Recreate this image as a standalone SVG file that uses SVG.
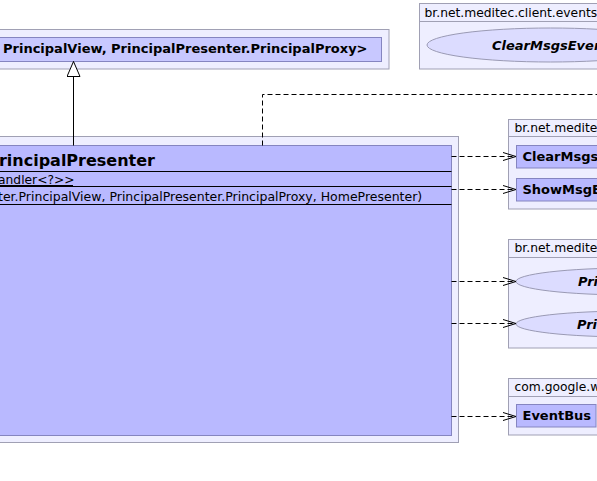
<svg xmlns="http://www.w3.org/2000/svg" width="597" height="481" viewBox="0 0 597 481">
<style>
.pkg{fill:#eeeeff;stroke:#a0a0b4;stroke-width:1}
.cls{fill:#b9b9ff;stroke:#8585c0;stroke-width:1}
.clsl{fill:#c8c8ff;stroke:#8585c0;stroke-width:1}
.ell{fill:#dcdcff;stroke:#9a9ab4;stroke-width:1}
.sep{stroke:#000;stroke-width:1}
.hdr{font-family:"DejaVu Sans",sans-serif;font-size:12.3px;fill:#000}
.nm{font-family:"DejaVu Sans",sans-serif;font-size:13px;font-weight:bold;fill:#000}
.nmi{font-family:"DejaVu Sans",sans-serif;font-size:13px;font-weight:bold;font-style:italic;fill:#000}
.ttl{font-family:"DejaVu Sans",sans-serif;font-size:16px;font-weight:bold;fill:#000}
.mem{font-family:"DejaVu Sans",sans-serif;font-size:12.5px;fill:#000}
.dep{fill:none;stroke:#000;stroke-width:1;stroke-dasharray:5,3}
.gen{fill:none;stroke:#000;stroke-width:1}
</style>
<defs>
<marker id="open" viewBox="0 0 14 10" refX="13" refY="5" markerWidth="14" markerHeight="10" markerUnits="userSpaceOnUse" orient="auto">
<path d="M0,1 L13,5 L0,9" fill="none" stroke="#000" stroke-width="1"/>
</marker>
<marker id="tri" viewBox="0 0 16 14" refX="15.5" refY="7" markerWidth="16" markerHeight="14" markerUnits="userSpaceOnUse" orient="auto">
<path d="M0.5,0.5 L15.5,7 L0.5,13.5 Z" fill="#fff" stroke="#000" stroke-width="1"/>
</marker>
</defs>

<g id="super">
<rect class="pkg" x="-10" y="29.5" width="399" height="39.5"/>
<rect class="clsl" x="-10" y="37.5" width="391.5" height="24"/>
<text class="nm" x="3" y="53">PrincipalView, PrincipalPresenter.PrincipalProxy&gt;</text>
</g>

<g id="pkg-events">
<rect class="pkg" x="419.5" y="3.5" width="190" height="65.5"/>
<line x1="419.5" y1="21.5" x2="609.5" y2="21.5" stroke="#a0a0b4"/>
<text class="hdr" x="424.5" y="16.5">br.net.meditec.client.events</text>
<ellipse class="ell" cx="550.5" cy="45" rx="123.5" ry="17"/>
<text class="nmi" x="492" y="49.5">ClearMsgsEven</text>
</g>

<g id="principal-presenter">
<rect class="pkg" x="-10" y="136.5" width="468.5" height="306"/>
<rect class="cls" x="-10" y="145.5" width="461.5" height="290"/>
<text class="ttl" x="155" y="165.5" text-anchor="end">PrincipalPresenter</text>
<line class="sep" x1="-10" y1="171.5" x2="451.5" y2="171.5"/>
<text class="mem" x="-2" y="183.5" style="font-size:12.3px">andler&lt;?&gt;&gt;</text>
<line class="sep" x1="-10" y1="185.5" x2="73" y2="185.5"/>
<line class="sep" x1="-10" y1="186.5" x2="451.5" y2="186.5"/>
<text class="mem" x="-2" y="201">ter.PrincipalView, PrincipalPresenter.PrincipalProxy, HomePresenter)</text>
<line class="sep" x1="-10" y1="204.5" x2="451.5" y2="204.5"/>
</g>

<g id="pkg-msgs">
<rect class="pkg" x="508.5" y="119.5" width="110" height="89.5"/>
<line x1="508.5" y1="136.5" x2="618.5" y2="136.5" stroke="#a0a0b4"/>
<text class="hdr" x="514.5" y="131.5">br.net.medite</text>
<rect class="cls" x="516.5" y="145.5" width="100" height="22.5"/>
<text class="nm" x="522.5" y="161">ClearMsgs</text>
<rect class="cls" x="516.5" y="178.5" width="100" height="22.5"/>
<text class="nm" x="522.5" y="194">ShowMsgE</text>
</g>

<g id="pkg-principal">
<rect class="pkg" x="508.5" y="239.5" width="260" height="108.5"/>
<line x1="508.5" y1="257.5" x2="768.5" y2="257.5" stroke="#a0a0b4"/>
<text class="hdr" x="514.5" y="251.5">br.net.medite</text>
<ellipse class="ell" cx="631" cy="281.5" rx="115" ry="13.5"/>
<text class="nmi" x="578" y="286">Pri</text>
<ellipse class="ell" cx="631" cy="324" rx="115" ry="13"/>
<text class="nmi" x="577" y="328.5">Pri</text>
</g>

<g id="pkg-google">
<rect class="pkg" x="508.5" y="378.5" width="95.5" height="56.5"/>
<line x1="508.5" y1="396.5" x2="604" y2="396.5" stroke="#a0a0b4"/>
<text class="hdr" x="514.5" y="391">com.google.w</text>
<rect class="cls" x="516.5" y="404.5" width="79.5" height="22.5"/>
<text class="nm" x="522.5" y="420">EventBus</text>
</g>

<g id="connectors">
<path class="gen" d="M73.5,145.5 L73.5,61.5" marker-end="url(#tri)"/>
<path class="dep" d="M262.5,145.5 L262.5,94.5 L597,94.5"/>
<path class="dep" d="M451.5,156.5 L516,156.5" marker-end="url(#open)"/>
<path class="dep" d="M451.5,189.5 L516,189.5" marker-end="url(#open)"/>
<path class="dep" d="M451.5,281.5 L516,281.5" marker-end="url(#open)"/>
<path class="dep" d="M451.5,323.5 L516,323.5" marker-end="url(#open)"/>
<path class="dep" d="M451.5,416.5 L516,416.5" marker-end="url(#open)"/>
</g>
</svg>
